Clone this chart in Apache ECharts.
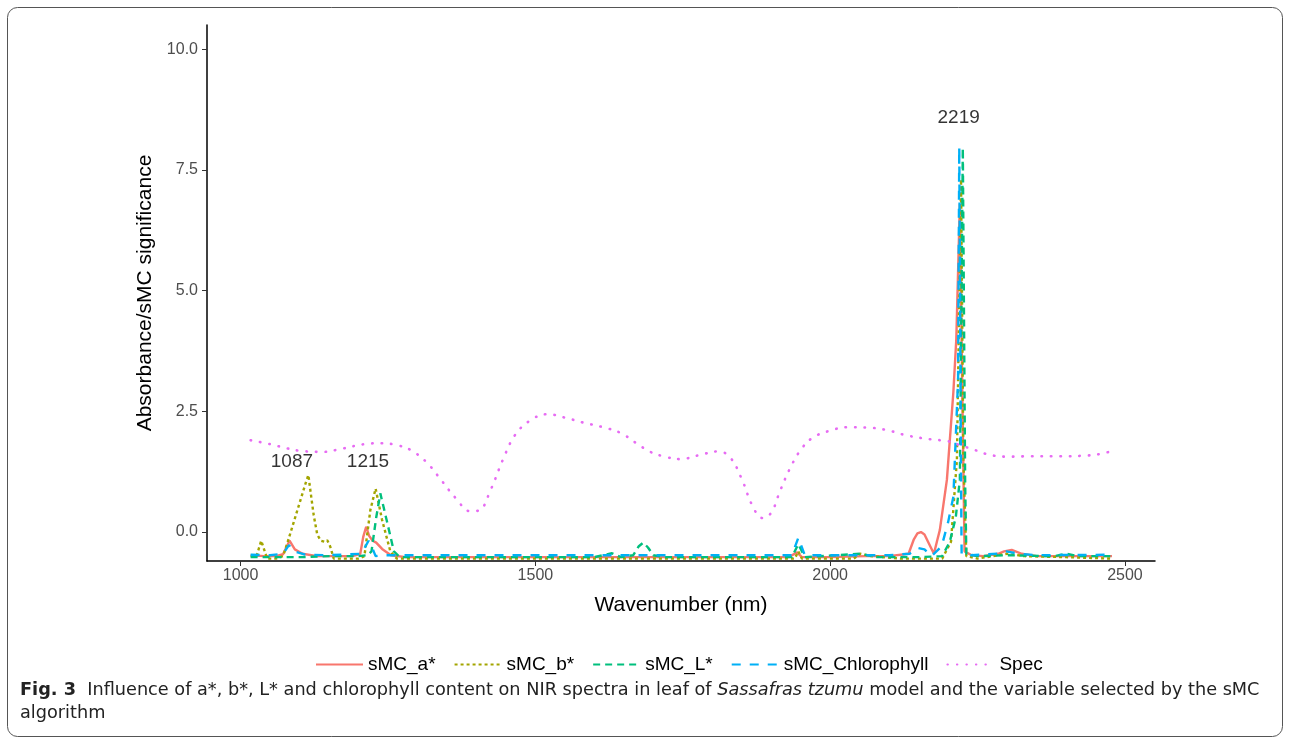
<!DOCTYPE html>
<html>
<head>
<meta charset="utf-8">
<script src="https://cdn.jsdelivr.net/npm/echarts@6/dist/echarts.min.js"></script>
<style>
html,body{margin:0;padding:0;background:#fff;}
#chart{width:1290px;height:744px;}
</style>
</head>
<body>
<div id="chart"></div>
<script>
// ---- data (wavenumber nm, value) ----
const seriesNames = ['sMC_a*', 'sMC_b*', 'sMC_L*', 'sMC_Chlorophyll', 'Spec'];

const aStar = [[1017,-0.48],[1040,-0.5],[1060,-0.5],[1072,-0.46],[1083,-0.18],[1092,-0.36],[1105,-0.45],[1130,-0.5],[1160,-0.5],[1190,-0.5],[1203,-0.45],[1208,-0.1],[1213,0.11],[1218,-0.08],[1224,-0.18],[1230,-0.22],[1240,-0.35],[1255,-0.48],[1280,-0.52],[1350,-0.52],[1450,-0.52],[1550,-0.52],[1650,-0.52],[1750,-0.52],[1850,-0.52],[1930,-0.52],[1944,-0.42],[1952,-0.52],[2000,-0.52],[2060,-0.5],[2100,-0.5],[2133,-0.45],[2142,-0.15],[2148,-0.03],[2154,0.0],[2160,-0.05],[2166,-0.2],[2176,-0.45],[2181,-0.2],[2186,0.04],[2198,1.08],[2209,2.9],[2214,4.0],[2220,6.8],[2224,3.0],[2228,-0.4],[2240,-0.48],[2260,-0.5],[2285,-0.45],[2295,-0.4],[2308,-0.37],[2325,-0.45],[2350,-0.5],[2400,-0.5],[2440,-0.5],[2478,-0.5]];

const bStar = [[1017,-0.5],[1027,-0.5],[1035,-0.18],[1045,-0.55],[1060,-0.55],[1072,-0.5],[1080,-0.2],[1090,0.2],[1100,0.6],[1110,1.0],[1115,1.18],[1119,0.8],[1124,0.35],[1130,-0.05],[1136,-0.18],[1142,-0.2],[1147,-0.17],[1152,-0.3],[1158,-0.55],[1200,-0.55],[1210,-0.5],[1220,0.45],[1229,0.9],[1240,0.25],[1254,-0.4],[1265,-0.55],[1400,-0.55],[1600,-0.55],[1800,-0.55],[1940,-0.55],[1946,-0.4],[1952,-0.55],[2040,-0.55],[2051,-0.45],[2070,-0.5],[2120,-0.55],[2190,-0.55],[2205,-0.2],[2215,1.5],[2222,7.3],[2226,1.5],[2231,-0.5],[2250,-0.55],[2300,-0.45],[2330,-0.5],[2400,-0.52],[2478,-0.55]];

const lStar = [[1017,-0.52],[1060,-0.52],[1100,-0.52],[1150,-0.5],[1200,-0.5],[1215,-0.48],[1222,-0.4],[1230,0.3],[1237,0.8],[1249,0.18],[1260,-0.4],[1270,-0.52],[1400,-0.52],[1600,-0.52],[1630,-0.44],[1645,-0.52],[1666,-0.48],[1675,-0.3],[1683,-0.22],[1691,-0.32],[1700,-0.48],[1720,-0.52],[1935,-0.52],[1946,-0.25],[1957,-0.52],[2051,-0.45],[2080,-0.52],[2150,-0.52],[2190,-0.5],[2203,-0.2],[2213,0.3],[2220,1.08],[2225,7.95],[2229,1.0],[2231,-0.45],[2250,-0.5],[2300,-0.48],[2380,-0.5],[2401,-0.45],[2420,-0.5],[2478,-0.5]];

const chloro = [[1017,-0.47],[1050,-0.48],[1072,-0.45],[1082,-0.27],[1090,-0.4],[1110,-0.47],[1150,-0.48],[1205,-0.45],[1217,-0.18],[1224,-0.35],[1229,-0.5],[1240,-0.48],[1400,-0.48],[1600,-0.48],[1935,-0.48],[1946,-0.12],[1957,-0.48],[2100,-0.48],[2135,-0.45],[2149,-0.33],[2160,-0.36],[2172,-0.5],[2189,-0.3],[2200,0.2],[2209,0.73],[2217,3.15],[2219,7.97],[2222,1.0],[2223,-0.45],[2240,-0.48],[2285,-0.45],[2299,-0.4],[2320,-0.45],[2350,-0.48],[2478,-0.47]];

const spec = [[1017,1.9],[1050,1.82],[1080,1.73],[1102,1.68],[1140,1.66],[1170,1.72],[1210,1.82],[1240,1.84],[1265,1.8],[1288,1.7],[1315,1.45],[1340,1.08],[1365,0.7],[1390,0.43],[1405,0.45],[1424,0.87],[1445,1.5],[1465,2.0],[1490,2.3],[1520,2.44],[1550,2.37],[1580,2.27],[1615,2.17],[1645,2.05],[1670,1.85],[1695,1.66],[1720,1.56],[1746,1.51],[1780,1.6],[1810,1.67],[1830,1.55],[1850,1.1],[1868,0.55],[1885,0.29],[1900,0.4],[1915,0.85],[1932,1.32],[1950,1.7],[1970,1.95],[2000,2.1],[2030,2.17],[2068,2.16],[2100,2.1],[2130,2.0],[2170,1.92],[2200,1.88],[2220,1.8],[2245,1.7],[2270,1.6],[2300,1.56],[2340,1.57],[2390,1.57],[2430,1.58],[2460,1.62],[2478,1.68]];

const annotations = [[1087,1.45,'1087'],[1216,1.45,'1215'],[2218,8.57,'2219']];

const xTicks = [1000, 1500, 2000, 2500];
const yTicks = [0, 2.5, 5, 7.5, 10];

const colors = ['#F8766D', '#A3A500', '#00BF7D', '#00B0F6', '#E76BF3'];
const dashes = ['solid', [3, 3], [7, 5], [9, 9], [0.5, 9]];
const seriesData = [aStar, bStar, lStar, chloro, spec];

const chart = echarts.init(document.getElementById('chart'));
const FONT = 'Liberation Sans, Arial, sans-serif';
const CAPFONT = 'DejaVu Sans, sans-serif';

const lineSeries = seriesNames.map((name, i) => ({
  name: name,
  type: 'line',
  data: seriesData[i],
  symbol: 'none',
  smooth: i === 4 ? 0.4 : false,
  silent: true,
  z: 2 + i,
  lineStyle: { color: colors[i], width: i === 4 ? 2.6 : 2.4, type: dashes[i], cap: i === 4 ? 'round' : 'butt' },
  itemStyle: { color: colors[i] }
}));

lineSeries.push({
  name: 'labels',
  type: 'scatter',
  data: annotations.map(a => [a[0], a[1], a[2]]),
  symbolSize: 0,
  silent: true,
  z: 10,
  label: {
    show: true, position: 'inside',
    formatter: p => p.value[2],
    color: '#000', fontSize: 19, fontFamily: FONT
  }
});

chart.setOption({
  animation: false,
  backgroundColor: '#fff',
  textStyle: { fontFamily: FONT },
  grid: { left: 207, right: 135, top: 25, bottom: 183, containLabel: false },
  xAxis: {
    type: 'value', min: 943, max: 2551,
    name: 'Wavenumber (nm)', nameLocation: 'middle', nameGap: 34,
    nameTextStyle: { fontSize: 21, color: '#000', fontFamily: FONT },
    axisLine: { show: true, onZero: false, lineStyle: { color: '#000', width: 1.5 } },
    axisTick: { show: true, length: 5, lineStyle: { color: '#333', width: 1 }, customValues: xTicks },
    axisLabel: { color: '#4D4D4D', fontSize: 16, margin: 7, customValues: xTicks, formatter: v => String(v), fontFamily: FONT },
    splitLine: { show: false }
  },
  yAxis: {
    type: 'value', min: -0.6, max: 10.5,
    name: 'Absorbance/sMC significance', nameLocation: 'middle', nameGap: 48, nameRotate: 90,
    nameTextStyle: { fontSize: 21, color: '#000', fontFamily: FONT },
    axisLine: { show: true, onZero: false, lineStyle: { color: '#000', width: 1.5 } },
    axisTick: { show: true, length: 5, lineStyle: { color: '#333', width: 1 }, customValues: yTicks },
    axisLabel: { color: '#4D4D4D', fontSize: 16, margin: 9, customValues: yTicks, formatter: v => Number(v).toFixed(1), fontFamily: FONT },
    splitLine: { show: false }
  },
  legend: {
    data: seriesNames,
    left: 310, top: 650,
    itemWidth: 47, itemHeight: 14, itemGap: 18,
    itemStyle: { color: 'rgba(0,0,0,0)', borderWidth: 0, opacity: 0 },
    textStyle: { fontSize: 19, color: '#000', fontFamily: FONT },
    selectedMode: false
  },
  graphic: [
    {
      type: 'rect', shape: { x: 7.5, y: 7.5, width: 1275, height: 729, r: 10 },
      style: { fill: 'none', stroke: '#555', lineWidth: 1 }, silent: true, z: 0
    },
    {
      type: 'text', left: 20, top: 679, silent: true,
      style: {
        text: '{b|Fig. 3}  Influence of a*, b*, L* and chlorophyll content on NIR spectra in leaf of {i|Sassafras tzumu} model and the variable selected by the sMC\nalgorithm',
        fontFamily: CAPFONT, fontSize: 17.7, fill: '#222', lineHeight: 23,
        rich: {
          b: { fontWeight: 'bold', fontSize: 17.7, fontFamily: CAPFONT, fill: '#222' },
          i: { fontStyle: 'italic', fontSize: 17.7, fontFamily: CAPFONT, fill: '#222' }
        }
      }
    }
  ],
  series: lineSeries
});
</script>
</body>
</html>
